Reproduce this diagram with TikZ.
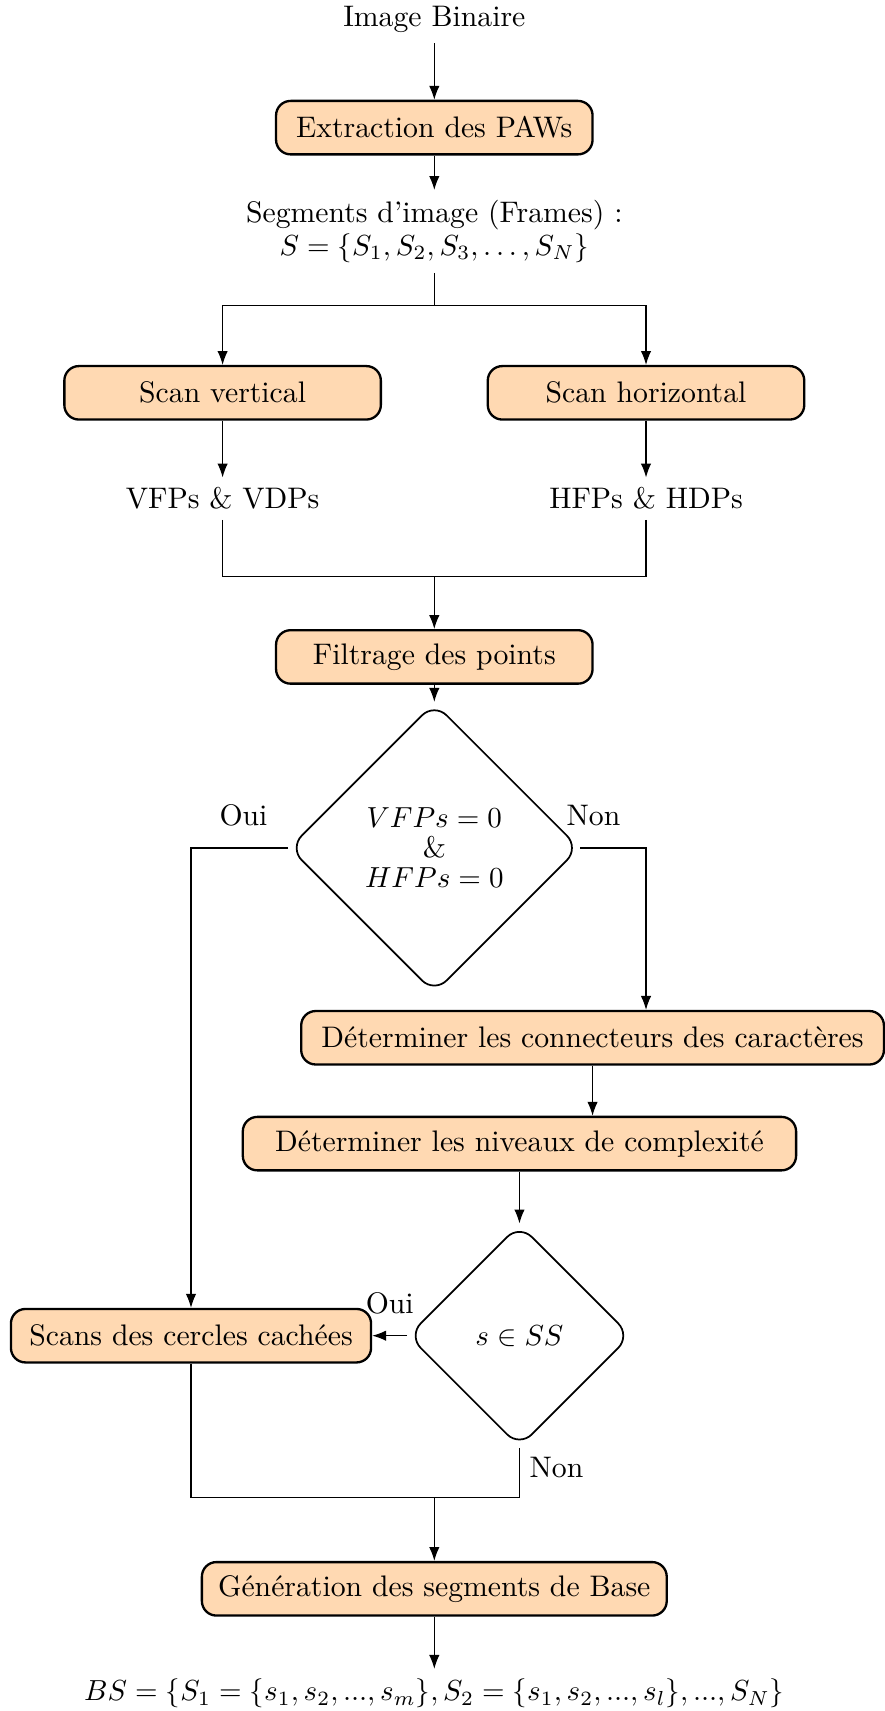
\documentclass[tikz,border=0pt]{standalone}
\usepackage{amsmath,amssymb}
\usepackage{tikz}
\usetikzlibrary{shapes,arrows.meta,positioning}

\begin{document}
\begin{tikzpicture}[on grid, >={Latex}, every node/.style = {align=center, font=\fontsize{10.25}{12.3}\selectfont},
  stepbox/.style = {rectangle, rounded corners=5pt, draw, thick, fill=orange!30, minimum height=0.648cm, minimum width=#1},
  stepbox/.default = 3.836cm,
  choice/.style = {diamond, draw, semithick, rounded corners=6pt, inner sep=0pt, minimum width=#1, minimum height=#1}]
  \useasboundingbox (0,0) rectangle (10.726,-20.738);
  \node (input) at (5.264,-0.238) {Image Binaire};
  \node[stepbox, below=1.309cm of input] (paws) {Extraction des PAWs};
  \node[below=1.257cm of paws] (frames) {Segments d'image (Frames) :\\[-1pt] $S=\{S_1,S_2,S_3,\ldots,S_N\}$};
  \coordinate[below=0.899cm of frames] (fork);
  \node[stepbox, below left=1.957cm and 2.566cm of frames] (scanv) {Scan vertical};
  \node[stepbox, below right=1.957cm and 2.566cm of frames] (scanh) {Scan horizontal};
  \node[below=1.283cm of scanv] (vpts) {VFPs \& VDPs};
  \node[below=1.283cm of scanh] (hpts) {HFPs \& HDPs};
  \coordinate[below=4.179cm of frames] (join);
  \node[stepbox, below=5.158cm of frames] (filter) {Filtrage des points};
  \node[choice=3.52cm, below=2.315cm of filter] (empty) {$VFPs=0$\\[-2pt]\&\\[-2pt]$HFPs=0$};
  \node[stepbox=7.063cm, below right=2.301cm and 1.918cm of empty] (conn) {Déterminer les connecteurs des caractères};
  \node[stepbox=6.706cm, below left=1.283cm and 0.886cm of conn] (level) {Déterminer les niveaux de complexité};
  \node[choice=2.70cm, below=2.328cm of level] (inss) {$s\in SS$};
  \node[stepbox=4.365cm, left=3.981cm of inss] (circles) {Scans des cercles cachées};
  \node[stepbox=5.634cm, below left=3.068cm and 1.032cm of inss] (base) {Génération des segments de Base};
  \coordinate[above=1.111cm of base] (merge);
  \node[below=1.270cm of base] (result) {$BS=\{S_1=\{s_1,s_2,...,s_m\},S_2=\{s_1,s_2,...,s_l\},...,S_N\}$};

  \draw[->] (input) -- (paws);
  \draw[->] (paws) -- (frames);
  \draw (frames) -- (fork);
  \draw[->] (fork) -| (scanv);
  \draw[->] (fork) -| (scanh);
  \draw[->] (scanv) -- (vpts);
  \draw[->] (scanh) -- (hpts);
  \draw (vpts) |- (join);
  \draw (hpts) |- (join);
  \draw[->] (join) -- (filter);
  \draw[->] (filter) -- (empty);
  \draw[->] (empty) -| node[pos=0.23, above, yshift=4pt]{Oui} (circles);
  \draw[->] (empty) -| node[pos=0.1, above, yshift=4pt]{Non} (conn.north -| hpts);
  \draw[->] (conn) -- (conn |- level.north);
  \draw[->] (level) -- (inss);
  \draw[->] (inss) -- node[above, yshift=4pt]{Oui} (circles);
  \draw (inss) |- node[pos=0.2, right]{Non} (merge);
  \draw (circles) |- (merge);
  \draw[->] (merge) -- (base);
  \draw[->] (base) -- (result);
\end{tikzpicture}
\end{document}
